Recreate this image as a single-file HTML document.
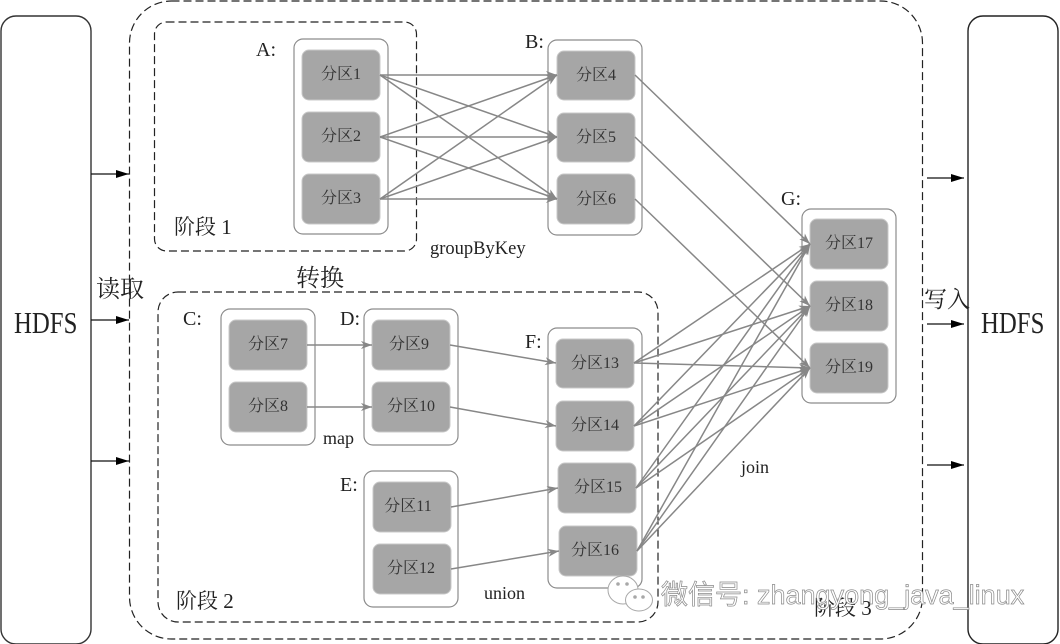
<!DOCTYPE html>
<html><head><meta charset="utf-8">
<style>
html,body{margin:0;padding:0;background:#fff;width:1060px;height:644px;overflow:hidden}
svg{display:block}
text{font-family:"Liberation Serif","Noto Serif CJK SC",serif;fill:#222}
.c{fill:#fff;stroke:#8c8c8c;stroke-width:1.2}
.n{fill:#a6a6a6;stroke:#c8c8c8;stroke-width:1}
.d{fill:none;stroke:#222;stroke-width:1.2;stroke-dasharray:8 4}
.l{stroke:#878787;stroke-width:1.5;fill:none;marker-end:url(#g)}
.t{font-size:16px;text-anchor:middle;fill:#333}
.a{stroke:#111;stroke-width:1.3;marker-end:url(#k)}
.s{font-size:20px}
.w{font-family:"Liberation Sans","Noto Sans CJK SC",sans-serif;font-size:27px;fill:#fff;stroke:#8a8a8a;stroke-width:.7}
</style></head><body>
<svg width="1060" height="644" viewBox="0 0 1060 644" xmlns="http://www.w3.org/2000/svg">
<defs>
<marker id="g" markerUnits="userSpaceOnUse" markerWidth="12" markerHeight="10" refX="11" refY="5" orient="auto"><path d="M0 1L11 5L0 9L3 5Z" fill="#878787"/></marker>
<marker id="k" markerUnits="userSpaceOnUse" markerWidth="14" markerHeight="10" refX="13" refY="5" orient="auto"><path d="M0 1L13 5L0 9Z" fill="#000"/></marker>
</defs>
<rect x="1" y="16" width="90" height="628" rx="15" fill="#fff" stroke="#333" stroke-width="1.4"/>
<rect x="968" y="16" width="90" height="628" rx="15" fill="#fff" stroke="#222" stroke-width="1.4"/>
<rect class="d" x="129.500" y="1" width="793" height="638" rx="42"/>
<rect class="d" x="154.500" y="22" width="262" height="229" rx="12"/>
<rect class="d" x="158" y="292" width="500" height="330" rx="20"/>
<g class="cs">
<rect class="c" x="294" y="39" width="94" height="195" rx="9"/>
<rect class="c" x="548" y="40" width="94" height="195" rx="9"/>
<rect class="c" x="802" y="209" width="94" height="194" rx="9"/>
<rect class="c" x="221" y="309" width="94" height="136" rx="9"/>
<rect class="c" x="364" y="309" width="94" height="136" rx="9"/>
<rect class="c" x="364" y="471" width="94" height="136" rx="9"/>
<rect class="c" x="548" y="328" width="94" height="260" rx="9"/>
</g>
<rect class="n" x="302" y="50" width="78" height="50" rx="7"/>
<rect class="n" x="302" y="112" width="78" height="50" rx="7"/>
<rect class="n" x="302" y="174" width="78" height="50" rx="7"/>
<rect class="n" x="557" y="51" width="78" height="49" rx="7"/>
<rect class="n" x="557" y="113" width="78" height="49" rx="7"/>
<rect class="n" x="557" y="174" width="78" height="50" rx="7"/>
<rect class="n" x="810" y="219" width="78" height="50" rx="7"/>
<rect class="n" x="810" y="281" width="78" height="50" rx="7"/>
<rect class="n" x="810" y="343" width="78" height="50" rx="7"/>
<rect class="n" x="229" y="320" width="78" height="50" rx="7"/>
<rect class="n" x="229" y="382" width="78" height="50" rx="7"/>
<rect class="n" x="372" y="320" width="78" height="50" rx="7"/>
<rect class="n" x="372" y="382" width="78" height="50" rx="7"/>
<rect class="n" x="373" y="482" width="78" height="50" rx="7"/>
<rect class="n" x="373" y="544" width="78" height="50" rx="7"/>
<rect class="n" x="556" y="339" width="78" height="49" rx="7"/>
<rect class="n" x="556" y="401" width="78" height="50" rx="7"/>
<rect class="n" x="558" y="463" width="78" height="50" rx="7"/>
<rect class="n" x="559" y="526" width="78" height="50" rx="7"/>

<line class="l" x1="380" y1="75" x2="557" y2="75"/>
<line class="l" x1="380" y1="75" x2="557" y2="137"/>
<line class="l" x1="380" y1="75" x2="557" y2="199"/>
<line class="l" x1="380" y1="137" x2="557" y2="75"/>
<line class="l" x1="380" y1="137" x2="557" y2="137"/>
<line class="l" x1="380" y1="137" x2="557" y2="199"/>
<line class="l" x1="380" y1="199" x2="557" y2="75"/>
<line class="l" x1="380" y1="199" x2="557" y2="137"/>
<line class="l" x1="380" y1="199" x2="557" y2="199"/>
<line class="l" x1="635" y1="75" x2="810" y2="244"/>
<line class="l" x1="635" y1="137" x2="810" y2="306"/>
<line class="l" x1="635" y1="199" x2="810" y2="368"/>
<line class="l" x1="307" y1="345" x2="372" y2="345"/>
<line class="l" x1="307" y1="407" x2="372" y2="407"/>
<line class="l" x1="450" y1="345" x2="556" y2="363"/>
<line class="l" x1="450" y1="407" x2="556" y2="426"/>
<line class="l" x1="451" y1="507" x2="558" y2="488"/>
<line class="l" x1="451" y1="569" x2="559" y2="551"/>
<line class="l" x1="634" y1="363" x2="810" y2="244"/>
<line class="l" x1="634" y1="363" x2="810" y2="306"/>
<line class="l" x1="634" y1="363" x2="810" y2="368"/>
<line class="l" x1="634" y1="426" x2="810" y2="244"/>
<line class="l" x1="634" y1="426" x2="810" y2="306"/>
<line class="l" x1="634" y1="426" x2="810" y2="368"/>
<line class="l" x1="636" y1="488" x2="810" y2="244"/>
<line class="l" x1="636" y1="488" x2="810" y2="306"/>
<line class="l" x1="636" y1="488" x2="810" y2="368"/>
<line class="l" x1="637" y1="551" x2="810" y2="244"/>
<line class="l" x1="637" y1="551" x2="810" y2="306"/>
<line class="l" x1="637" y1="551" x2="810" y2="368"/>

<line class="a" x1="91" y1="174" x2="129" y2="174"/>
<line class="a" x1="91" y1="320" x2="129" y2="320"/>
<line class="a" x1="91" y1="461" x2="129" y2="461"/>
<line class="a" x1="927" y1="178" x2="964" y2="178"/>
<line class="a" x1="927" y1="324" x2="964" y2="324"/>
<line class="a" x1="927" y1="465" x2="964" y2="465"/>

<text class="t" x="341" y="79">分区1</text>
<text class="t" x="341" y="141">分区2</text>
<text class="t" x="341" y="203">分区3</text>
<text class="t" x="596" y="80">分区4</text>
<text class="t" x="596" y="142">分区5</text>
<text class="t" x="596" y="204">分区6</text>
<text class="t" x="849" y="248">分区17</text>
<text class="t" x="849" y="310">分区18</text>
<text class="t" x="849" y="372">分区19</text>
<text class="t" x="268" y="349">分区7</text>
<text class="t" x="268" y="411">分区8</text>
<text class="t" x="409" y="349">分区9</text>
<text class="t" x="411" y="411">分区10</text>
<text class="t" x="408" y="511">分区11</text>
<text class="t" x="411" y="573">分区12</text>
<text class="t" x="595" y="368">分区13</text>
<text class="t" x="595" y="430">分区14</text>
<text class="t" x="598" y="492">分区15</text>
<text class="t" x="595" y="555">分区16</text>

<text class="s" x="256" y="56">A:</text>
<text class="s" x="525" y="48">B:</text>
<text class="s" x="781" y="205">G:</text>
<text class="s" x="183" y="325">C:</text>
<text class="s" x="340" y="325">D:</text>
<text class="s" x="340" y="491">E:</text>
<text class="s" x="525" y="348">F:</text>

<text x="174" y="234" font-size="21" fill="#333">阶段 1</text>
<text x="176" y="608" font-size="21" fill="#333">阶段 2</text>
<text x="814" y="615" font-size="21" fill="#333">阶段 3</text>
<text x="296" y="286" font-size="24">转换</text>
<text x="96" y="297" font-size="24">读取</text>
<text x="924" y="307" font-size="23">写入</text>
<text x="430" y="254" font-size="18.500">groupByKey</text>
<text x="323" y="444" font-size="18">map</text>
<text x="484" y="599" font-size="18">union</text>
<text x="741" y="473" font-size="18">join</text>
<text transform="translate(14,333) scale(.8,1)" font-size="31">HDFS</text>
<text transform="translate(981,333) scale(.8,1)" font-size="31">HDFS</text>

<g fill="#fff" stroke="#a8a8a8" stroke-width="1">
<ellipse cx="623" cy="590" rx="15" ry="14"/>
<ellipse cx="639" cy="600" rx="13.500" ry="11"/>
<circle cx="618" cy="584" r="1.300" fill="#a8a8a8"/>
<circle cx="627" cy="584" r="1.300" fill="#a8a8a8"/>
<circle cx="635" cy="597" r="1.300" fill="#a8a8a8"/>
<circle cx="643" cy="597" r="1.300" fill="#a8a8a8"/>
</g>
<text class="w" x="661" y="604">微信号: zhangyong_java_linux</text>
</svg>
</body></html>
